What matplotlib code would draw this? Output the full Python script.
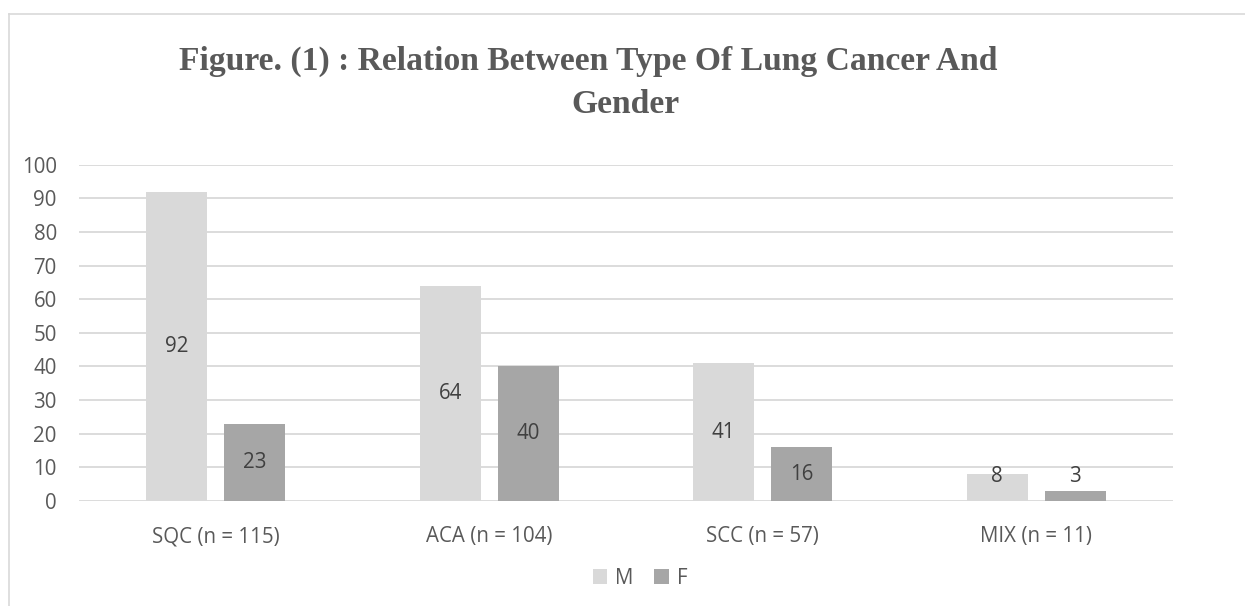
import matplotlib
matplotlib.use("Agg")
import matplotlib.pyplot as plt
import numpy as np
from matplotlib.lines import Line2D

# Dados do gráfico
categories = ["SQC (n = 115)", "ACA (n = 104)", "SCC (n = 57)", "MIX (n = 11)"]
male = [92, 64, 41, 8]
female = [23, 40, 16, 3]
series_names = ["M", "F"]
title_line1 = "Figure. (1) : Relation Between Type Of Lung Cancer And"
title_line2 = "Gender"

c_m = "#D9D9D9"
c_f = "#A6A6A6"
c_text = "#595959"
c_label = "#404040"
c_grid = "#D9D9D9"
sans = "Open Sans"
fs = 14.8

fig = plt.figure(figsize=(12.45, 6.06), dpi=100)
W, H = 1245, 606

# moldura do gráfico (estilo Excel)
fig.add_artist(Line2D([9 / W, 9 / W], [0, 1 - 14 / H], color=c_grid, lw=1.2, transform=fig.transFigure))
fig.add_artist(Line2D([9 / W, 1], [1 - 14 / H, 1 - 14 / H], color=c_grid, lw=1.2, transform=fig.transFigure))

ax = fig.add_axes([79 / W, 1 - 501 / H, (1173 - 79) / W, (501 - 164.7) / H])

x = np.arange(len(categories))
off = 0.1426
w = 0.223
bars_m = ax.bar(x - off, male, w, color=c_m, label=series_names[0], zorder=3)
bars_f = ax.bar(x + off, female, w, color=c_f, label=series_names[1], zorder=3)

# rótulos de dados centralizados (mínimo para barras pequenas)
for bars, vals in [(bars_m, male), (bars_f, female)]:
    for b, v in zip(bars, vals):
        ax.text(b.get_x() + b.get_width() / 2, max(v / 2, 7.4), str(v),
                ha="center", va="center", fontsize=fs, color=c_label,
                family=sans, zorder=4)

ax.set_xlim(-0.5, len(categories) - 0.5)
ax.set_ylim(0, 100)
ax.set_yticks(np.arange(0, 101, 10))
ax.set_xticks(x)
ax.set_xticklabels(categories)
for s in ax.spines.values():
    s.set_visible(False)
ax.grid(axis="y", color=c_grid, lw=1.3, zorder=0)
ax.tick_params(axis="both", length=0, labelcolor=c_text, labelsize=fs)
ax.tick_params(axis="y", pad=16)
ax.tick_params(axis="x", pad=18)
for lab in ax.get_xticklabels() + ax.get_yticklabels():
    lab.set_family(sans)

# título em duas linhas
fig.text(588 / W, 1 - 70 / H, title_line1, ha="center", va="baseline",
         family="Liberation Serif", weight="bold", fontsize=24.2, color=c_text)
fig.text(625 / W, 1 - 113 / H, title_line2, ha="center", va="baseline",
         family="Liberation Serif", weight="bold", fontsize=24.2, color=c_text)

leg = fig.legend(loc="center", bbox_to_anchor=(640 / W, 1 - 578 / H), ncol=2,
                 frameon=False, handlelength=0.7, handleheight=0.7,
                 handletextpad=0.4, columnspacing=1.0,
                 prop={"family": sans, "size": fs})
for t in leg.get_texts():
    t.set_color(c_text)

fig.savefig("out.png", dpi=100)
